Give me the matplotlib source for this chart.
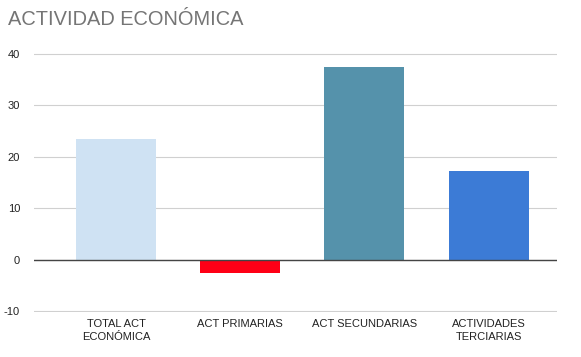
import matplotlib.pyplot as plt

plt.rcParams['font.family'] = ['Liberation Sans', 'DejaVu Sans']

categorias = ['TOTAL ACT\nECONÓMICA', 'ACT PRIMARIAS', 'ACT SECUNDARIAS', 'ACTIVIDADES\nTERCIARIAS']
valores = [23.5, -2.7, 37.4, 17.3]
colores = ['#cfe2f3', '#ff0016', '#5592ab', '#3c7bd6']
yticks = [-10, 0, 10, 20, 30, 40]

fig = plt.figure(figsize=(5.81, 3.57), dpi=100)
ax = fig.add_axes([0.0585, 0.127, 0.90, 0.7235])

x = list(range(len(categorias)))
ax.bar(x, valores, width=0.645, color=colores, zorder=3)

ax.set_xlim(-0.66, 3.55)
ax.set_ylim(-10.15, 40.15)
ax.set_yticks(yticks)
ax.set_yticklabels([str(v) for v in yticks])
ax.set_xticks(x)
ax.set_xticklabels(categorias, fontsize=8, color='#222222', linespacing=1.4)
ax.tick_params(axis='y', labelsize=8, labelcolor='#222222', length=0, pad=10)
ax.tick_params(axis='x', length=0, pad=5)

ax.grid(axis='y', color='#d0d0d0', linewidth=0.8, zorder=0)
ax.axhline(0, color='#444444', linewidth=1, zorder=4)
for s in ax.spines.values():
    s.set_visible(False)

fig.text(0.0138, 0.944, 'ACTIVIDAD ECONÓMICA', fontsize=14.4, color='#757575', va='center', ha='left')

fig.savefig('out.png', dpi=100)
